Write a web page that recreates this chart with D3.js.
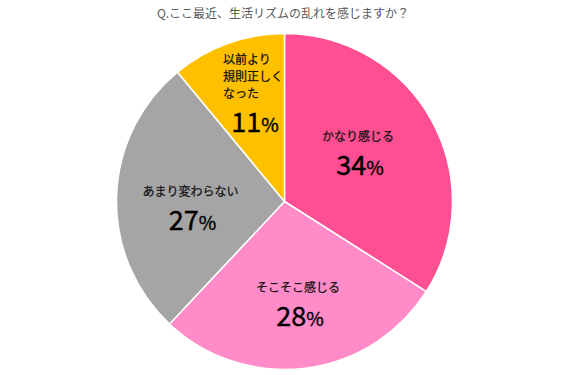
<!DOCTYPE html>
<html><head><meta charset="utf-8">
<script src="https://cdn.jsdelivr.net/npm/d3@7"></script>
<style>
html,body{margin:0;padding:0;background:#fff;}
svg{display:block;font-family:"Noto Sans CJK JP","Noto Sans",sans-serif;}
</style></head>
<body><svg id="chart" width="571" height="375"></svg>
<script>
// ---- data ----
const title = "Q.ここ最近、生活リズムの乱れを感じますか？";
const categories = [["かなり感じる"], ["そこそこ感じる"], ["あまり変わらない"], ["以前より","規則正しく","なった"]];
const values = [34, 28, 27, 11];
const colors = ["#FF4F93", "#FF8CC8", "#A5A5A5", "#FFC000"];

// ---- layout ----
const W = 571, H = 375;
const cx = 284.5, cy = 201.5, R = 168;
const labelRadius = [0.50, 0.64, 0.56, 0.553];
const labelShiftY = [-4, 0, 13, 0];
const labelAlign = ["middle", "middle", "middle", "start"];

const svg = d3.select("#chart");
svg.append("text").attr("x", 283).attr("y", 18).attr("text-anchor", "middle")
  .attr("font-size", 12).attr("fill", "#595959").text(title);

const g = svg.append("g").attr("transform", `translate(${cx},${cy})`);
const pie = d3.pie().sort(null).value(d => d);
const arcs = pie(values);
const arc = d3.arc().innerRadius(0).outerRadius(R);

g.selectAll("path").data(arcs).join("path")
  .attr("d", arc).attr("fill", (d, i) => colors[i])
  .attr("stroke", "#fff").attr("stroke-width", 1.5).attr("stroke-linejoin", "round");

arcs.forEach((d, i) => {
  const a = (d.startAngle + d.endAngle) / 2;
  const r = R * labelRadius[i];
  const ax = r * Math.sin(a);
  const ay = -r * Math.cos(a) + labelShiftY[i];
  const lines = categories[i];
  const lg = g.append("g");
  const blockW = d3.max(lines, s => s.length) * 12;
  lines.forEach((s, k) => {
    lg.append("text")
      .attr("x", labelAlign[i] === "start" ? ax - blockW / 2 : ax)
      .attr("y", ay - 16 - 17 * (lines.length - 1 - k))
      .attr("font-size", 12).attr("fill", "#111")
      .attr("stroke", "#111").attr("stroke-width", 0.25)
      .attr("text-anchor", labelAlign[i]).text(s);
  });
  const t = lg.append("text").attr("x", ax + 2).attr("y", ay + 18)
    .attr("text-anchor", "middle").attr("fill", "#000").attr("font-size", 27)
    .attr("stroke", "#000").attr("stroke-width", 0.4);
  t.append("tspan").text(values[i]);
  t.append("tspan").attr("font-size", 19).text("%");
});
</script></body></html>
